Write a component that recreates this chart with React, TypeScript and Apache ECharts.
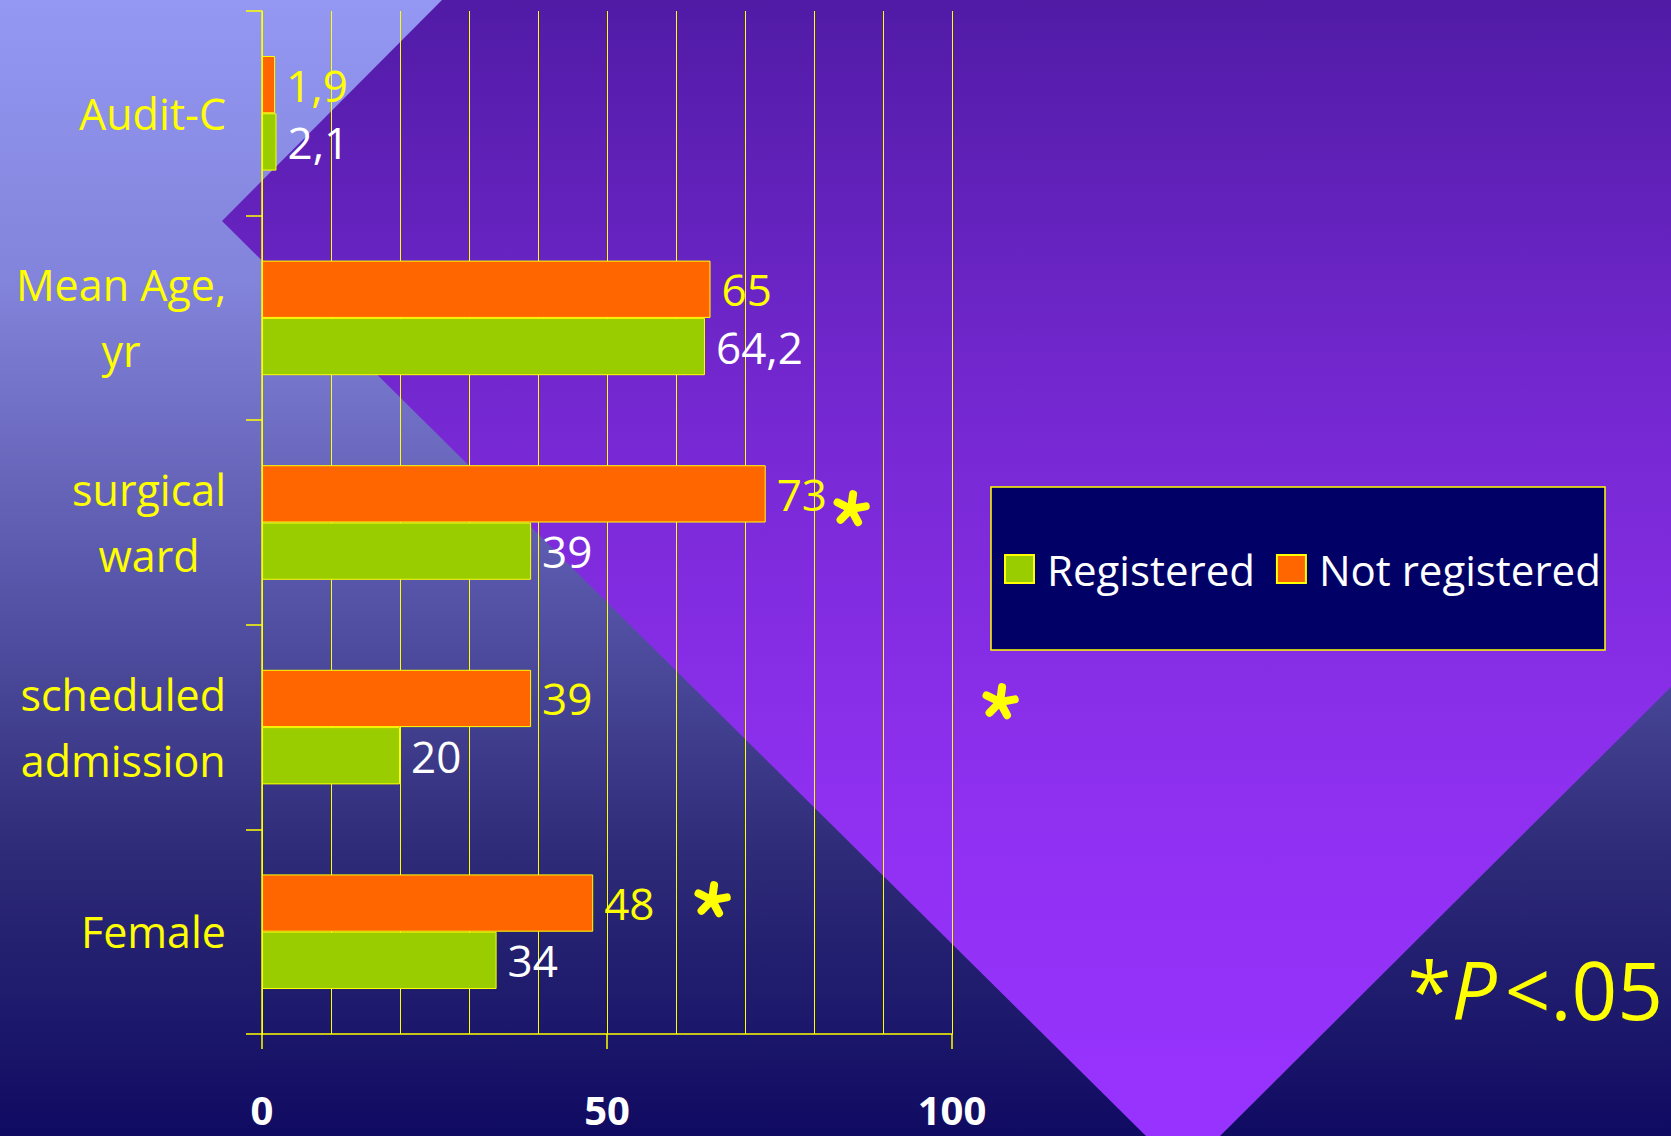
import React, { useEffect, useRef } from 'react';
import * as echarts from 'echarts';

// Data (categories listed bottom-to-top, as the category axis draws them)
const categories = ['Female', 'scheduled\nadmission', 'surgical\nward', 'Mean Age,\nyr', 'Audit-C'];
const registered = [34, 20, 39, 64.2, 2.1];
const notRegistered = [48, 39, 73, 65, 1.9];
const seriesNames = ['Registered', 'Not registered'];
const xMin = 0;
const xMax = 100;
const xInterval = 50;
const footnote = ['*', 'P', '<.05'];

const F = '"Open Sans", "DejaVu Sans", sans-serif';
const YELLOW = '#FFFF00';

const fmt = (v: number) => String(v).replace('.', ',');

function star(cx: number, cy: number) {
  const L = 15;
  const rot = 8;
  const children = [0, 72, 144, 216, 288].map((a) => {
    const r = ((a + rot) * Math.PI) / 180;
    return {
      type: 'line',
      shape: { x1: 0, y1: 0, x2: L * Math.sin(r), y2: -L * Math.cos(r) },
      style: { stroke: YELLOW, lineWidth: 8, lineCap: 'round' },
    };
  });
  return { type: 'group', x: cx, y: cy, z: 50, children };
}

export default function App() {
  const ref = useRef<HTMLDivElement>(null);

  useEffect(() => {
    if (!ref.current) return;
    const chart = echarts.init(ref.current, undefined, { renderer: 'svg' });

    const bgGrad = new echarts.graphic.LinearGradient(0, 0, 0, 1, [
      { offset: 0, color: '#9498F3' },
      { offset: 0.25, color: '#8283DA' },
      { offset: 0.5, color: '#5A58AC' },
      { offset: 0.75, color: '#2E2B78' },
      { offset: 1, color: '#100B62' },
    ]);
    const purpleGrad = new echarts.graphic.LinearGradient(0, 0, 0, 1, [
      { offset: 0, color: '#511BA6' },
      { offset: 0.35, color: '#7428D0' },
      { offset: 0.7, color: '#8F30F0' },
      { offset: 1, color: '#9833FF' },
    ]);

    const labelRich = {
      c: { align: 'center', color: YELLOW, fontSize: 43, lineHeight: 66, fontFamily: F },
    };

    chart.setOption({
      animation: false,
      grid: { left: 262, right: 719, top: 11, bottom: 102, containLabel: false },
      legend: {
        data: seriesNames,
        left: 1004,
        top: 548,
        padding: 0,
        icon: 'rect',
        itemWidth: 29,
        itemHeight: 28,
        itemGap: 21,
        selectedMode: false,
        textStyle: { color: '#FFFFFF', fontSize: 42, fontFamily: F, padding: [0, 0, 0, 8] },
      },
      xAxis: {
        type: 'value',
        min: xMin,
        max: xMax,
        interval: xInterval,
        axisLine: { show: true, lineStyle: { color: YELLOW, width: 1.5 } },
        axisTick: { show: true, length: 15, lineStyle: { color: YELLOW, width: 1.5 } },
        axisLabel: { color: '#FFFFFF', fontSize: 40, fontWeight: 'bold', fontFamily: F, margin: 55 },
        splitLine: { show: true, lineStyle: { color: YELLOW, width: 1 } },
        minorTick: { show: false, splitNumber: 5 },
        minorSplitLine: { show: true, lineStyle: { color: YELLOW, width: 1 } },
      },
      yAxis: {
        type: 'category',
        data: categories,
        axisLine: { show: true, lineStyle: { color: YELLOW, width: 1.5 } },
        axisTick: { show: true, length: 16, lineStyle: { color: YELLOW, width: 1.5 } },
        axisLabel: {
          margin: 36,
          formatter: (v: string) => v.split('\n').map((l) => `{c|${l}}`).join('\n'),
          rich: labelRich,
        },
        splitLine: { show: false },
      },
      series: [
        {
          name: 'Not registered',
          type: 'bar',
          data: notRegistered,
          barGap: '0%',
          barCategoryGap: '44%',
          itemStyle: { color: '#FF6600', borderColor: YELLOW, borderWidth: 1 },
          label: {
            show: true,
            position: 'right',
            distance: 11,
            color: YELLOW,
            fontSize: 44,
            fontFamily: F,
            formatter: (p: any) => fmt(p.value),
          },
        },
        {
          name: 'Registered',
          type: 'bar',
          data: registered,
          barGap: '0%',
          barCategoryGap: '44%',
          itemStyle: { color: '#9ACD00', borderColor: YELLOW, borderWidth: 1 },
          label: {
            show: true,
            position: 'right',
            distance: 11,
            color: '#FFFFFF',
            fontSize: 44,
            fontFamily: F,
            formatter: (p: any) => fmt(p.value),
          },
        },
      ],
      graphic: [
        {
          type: 'rect',
          z: -20,
          silent: true,
          shape: { x: 0, y: 0, width: 1671, height: 1136 },
          style: { fill: bgGrad },
        },
        {
          type: 'polygon',
          z: -10,
          silent: true,
          shape: {
            points: [
              [442, 0],
              [1671, 0],
              [1671, 687],
              [1220, 1136],
              [1146, 1136],
              [222, 221],
            ],
          },
          style: { fill: purpleGrad },
        },
        {
          type: 'rect',
          z: 1,
          silent: true,
          shape: { x: 991, y: 487, width: 614, height: 163 },
          style: { fill: '#000066', stroke: YELLOW, lineWidth: 1.5 },
        },
        star(851, 509),
        star(712, 900),
        star(1000, 702),
        {
          type: 'text',
          z: 50,
          x: 1663,
          y: 988,
          style: {
            text: `{a|${footnote[0]}}{b|${footnote[1]}}{c|${footnote[2]}}`,
            align: 'right',
            verticalAlign: 'middle',
            rich: {
              a: { fill: YELLOW, fontSize: 80, fontFamily: F },
              b: { fill: YELLOW, fontSize: 80, fontFamily: F, fontStyle: 'italic' },
              c: { fill: YELLOW, fontSize: 80, fontFamily: F, padding: [0, 0, 0, 8] },
            },
          },
        },
      ],
    });

    return () => chart.dispose();
  }, []);

  return (
    <div
      ref={ref}
      style={{ position: 'absolute', left: 0, top: 0, width: 1671, height: 1136 }}
    />
  );
}
